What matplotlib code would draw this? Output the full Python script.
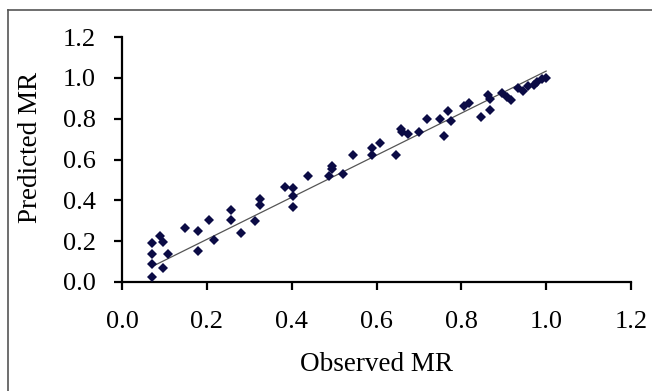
import numpy as np
import matplotlib
matplotlib.use("Agg")
import matplotlib.pyplot as plt
from matplotlib.lines import Line2D

observed = [0.070, 0.070, 0.070, 0.070, 0.089, 0.096, 0.096, 0.108, 0.148, 0.178,
            0.178, 0.206, 0.216, 0.258, 0.258, 0.281, 0.313, 0.326, 0.326, 0.384,
            0.404, 0.404, 0.404, 0.438, 0.487, 0.495, 0.495, 0.522, 0.545, 0.590,
            0.590, 0.608, 0.645, 0.657, 0.661, 0.675, 0.701, 0.719, 0.749, 0.760,
            0.769, 0.776, 0.806, 0.818, 0.846, 0.862, 0.868, 0.868, 0.897, 0.907,
            0.917, 0.933, 0.946, 0.958, 0.972, 0.979, 0.989, 1.000]
predicted = [0.024, 0.090, 0.137, 0.190, 0.226, 0.194, 0.067, 0.138, 0.265, 0.248,
             0.150, 0.305, 0.207, 0.353, 0.305, 0.240, 0.300, 0.407, 0.378, 0.467,
             0.459, 0.419, 0.366, 0.521, 0.521, 0.568, 0.552, 0.528, 0.622, 0.658,
             0.622, 0.679, 0.622, 0.748, 0.736, 0.723, 0.735, 0.796, 0.796, 0.715,
             0.837, 0.790, 0.860, 0.878, 0.806, 0.915, 0.842, 0.894, 0.927, 0.907,
             0.891, 0.948, 0.936, 0.959, 0.967, 0.980, 0.992, 0.997]
trend_x = [0.078, 1.0]
trend_y = [0.083, 1.033]
ticks = [0.0, 0.2, 0.4, 0.6, 0.8, 1.0, 1.2]
tick_labels = ["0.0", "0.2", "0.4", "0.6", "0.8", "1.0", "1.2"]

plt.rcParams['font.family'] = ['Liberation Serif', 'DejaVu Serif']

W, H = 652, 391
fig = plt.figure(figsize=(W / 100, H / 100), dpi=100)
ax = fig.add_axes([122 / W, 1 - 282 / H, (631 - 122) / W, (282 - 37) / H])

ax.plot(trend_x, trend_y, color='#555555', lw=0.9, zorder=2)
ax.plot(observed, predicted, linestyle='none', marker='D', markersize=5.6,
        color='#0b0b45', markeredgewidth=0, zorder=3)

ax.set_xlim(0, 1.2)
ax.set_ylim(0, 1.2)
ax.set_xticks(ticks)
ax.set_xticklabels(tick_labels)
ax.set_yticks(ticks)
ax.set_yticklabels(tick_labels)
for s in ['top', 'right']:
    ax.spines[s].set_visible(False)
for s in ['left', 'bottom']:
    ax.spines[s].set_linewidth(1.6)
    ax.spines[s].set_color('black')
ax.tick_params(axis='both', direction='out', length=6, width=1.6, labelsize=19,
               colors='black')
ax.tick_params(axis='x', pad=15)
ax.tick_params(axis='y', pad=13)

ax.set_xlabel('Observed MR', fontsize=19.5)
ax.set_ylabel('Predicted MR', fontsize=19.5)
ax.xaxis.set_label_coords(0.5, -0.285)
ax.yaxis.set_label_coords(-0.155, 0.55)

# outer frame (left and top edges visible)
fig.add_artist(Line2D([8 / W, 8 / W], [0, 1 - 10 / H], transform=fig.transFigure,
                      color='#555555', lw=1.2))
fig.add_artist(Line2D([8 / W, 1], [1 - 10 / H, 1 - 10 / H], transform=fig.transFigure,
                      color='#555555', lw=1.2))

fig.savefig('out.png', dpi=100)
